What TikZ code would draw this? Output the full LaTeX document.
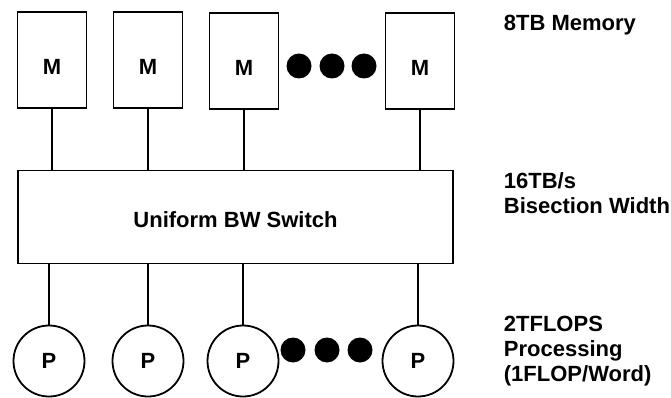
\documentclass[tikz,border=0pt]{standalone}
\usepackage{fontspec}
\setmainfont{Liberation Sans}
\begin{document}
\begin{tikzpicture}[x=1pt,y=-1pt,
  line width=1.8pt,
  every node/.style={font=\fontsize{22}{25}\selectfont\bfseries},
  membox/.style={draw, rectangle, minimum width=69pt, minimum height=96pt, inner sep=0pt},
  proc/.style={draw, circle, minimum size=71pt, inner sep=0pt},
  switchbox/.style={draw, rectangle, minimum width=435pt, minimum height=93pt, inner sep=0pt},
  lbl/.style={inner sep=0pt},
  sidelbl/.style={inner sep=0pt, anchor=base west},
  bigdot/.style={fill=black, circle, minimum size=25pt, inner sep=0pt}
]
\useasboundingbox (0,0) rectangle (671,398);

% memory boxes
\node[membox] (m1) at (52,60) {};
\node[membox] (m2) at (148,60) {};
\node[membox] (m3) at (244,61) {};
\node[membox] (m4) at (420,61) {};
\node[lbl, yshift=-7pt] (tm1) at (m1) {M};
\node[lbl, yshift=-7pt] (tm2) at (m2) {M};
\node[lbl, yshift=-7pt] (tm3) at (m3) {M};
\node[lbl, yshift=-7pt] (tm4) at (m4) {M};
\node[bigdot] (d1) at (299,66) {};
\node[bigdot] (d2) at (332,66) {};
\node[bigdot] (d3) at (364,66) {};

% switch
\node[switchbox] (sw) at (235.5,217) {};
\node[lbl, yshift=-3pt] (swt) at (sw) {Uniform BW Switch};

% processors
\node[proc] (p1) at (49,361) {P};
\node[proc] (p2) at (148,361) {P};
\node[proc] (p3) at (243,361) {P};
\node[proc] (p4) at (418,361) {P};
\node[bigdot] (e1) at (293,350) {};
\node[bigdot] (e2) at (327,350) {};
\node[bigdot] (e3) at (360,350) {};

% connectors
\foreach \i in {1,2,3,4} {
  \draw (m\i.south) -- (m\i.south |- sw.north);
  \draw (p\i.north) -- (p\i.north |- sw.south);
}

% side labels
\node[sidelbl] (l1) at (503,31) {8TB Memory};
\node[sidelbl] (l2a) at (503,189) {16TB/s};
\node[sidelbl] (l2b) at (503,213) {Bisection Width};
\node[sidelbl] (l3a) at (503,331) {2TFLOPS};
\node[sidelbl] (l3b) at (503,356) {Processing};
\node[sidelbl] (l3c) at (503,381) {(1FLOP/Word)};
\end{tikzpicture}
\end{document}
